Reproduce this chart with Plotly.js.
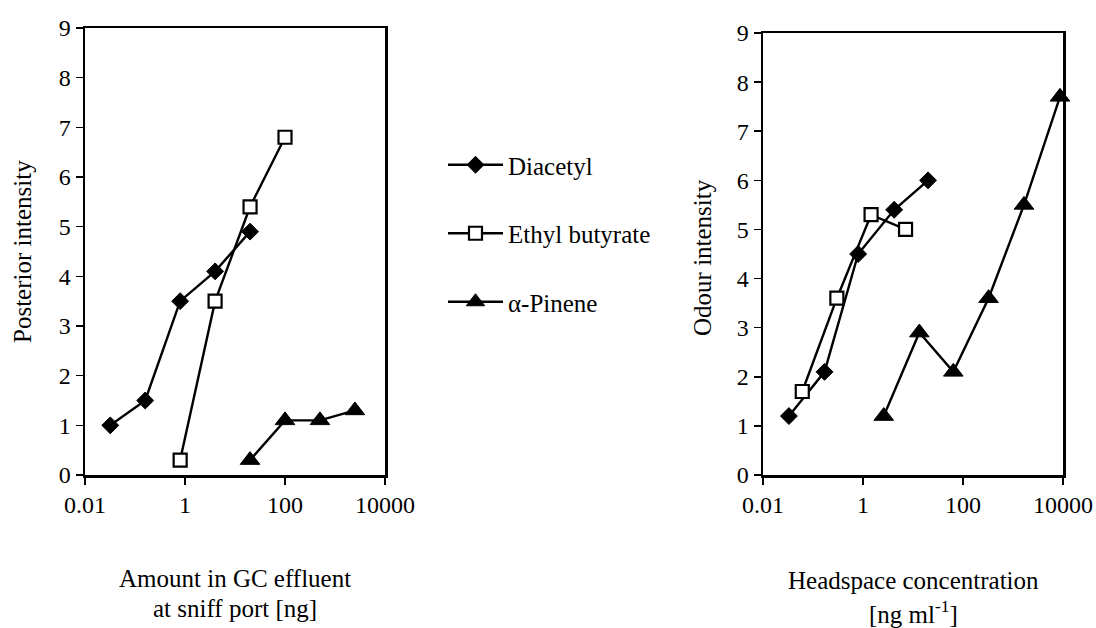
<!DOCTYPE html>
<html><head><meta charset="utf-8">
<script src="https://cdn.plot.ly/plotly-3.0.1.min.js"></script>
<style>body{margin:0;background:#fff}#c{width:1096px;height:628px}</style>
</head><body><div id="c"></div>
<script>
// Left panel: amount in GC effluent at sniff port [ng]
const leftDiacetylX = [0.032, 0.16, 0.8, 4, 20];
const leftDiacetylY = [1.0, 1.5, 3.5, 4.1, 4.9];
const leftEthylX = [0.8, 4, 20, 100];
const leftEthylY = [0.3, 3.5, 5.4, 6.8];
const leftPineneX = [20, 100, 500, 2500];
const leftPineneY = [0.3, 1.1, 1.1, 1.3];
// Right panel: headspace concentration [ng ml-1]
const rightDiacetylX = [0.033, 0.17, 0.8, 4.2, 20];
const rightDiacetylY = [1.2, 2.1, 4.5, 5.4, 6.0];
const rightEthylX = [0.061, 0.3, 1.45, 7.1];
const rightEthylY = [1.7, 3.6, 5.3, 5.0];
const rightPineneX = [2.6, 13.4, 64, 325, 1660, 8700];
const rightPineneY = [1.2, 2.9, 2.1, 3.6, 5.5, 7.7];

const seriesNames = ['Diacetyl', 'Ethyl butyrate', '\u03b1-Pinene'];
const tickVals = [0.01, 1, 100, 10000];
const tickText = ['0.01', '1', '100', '10000'];

const font = 'Liberation Serif';
const mk = [
  {symbol:'diamond', size:13, color:'#000', line:{color:'#000', width:1}},
  {symbol:'square', size:13, color:'#fff', line:{color:'#000', width:2.2}},
  {symbol:'triangle-up', size:17, color:'#000', line:{color:'#000', width:1}}
];
function tr(x, y, i, ax, leg){
  return {x:x, y:y, type:'scatter', mode:'lines+markers', name:seriesNames[i],
    legendgroup:'g'+i, showlegend:leg, xaxis:ax[0], yaxis:ax[1],
    line:{color:'#000', width:2.4}, marker:mk[i], cliponaxis:false};
}
const data = [
  tr(leftDiacetylX, leftDiacetylY, 0, ['x','y'], true),
  tr(leftEthylX, leftEthylY, 1, ['x','y'], true),
  tr(leftPineneX, leftPineneY, 2, ['x','y'], true),
  tr(rightDiacetylX, rightDiacetylY, 0, ['x2','y2'], false),
  tr(rightEthylX, rightEthylY, 1, ['x2','y2'], false),
  tr(rightPineneX, rightPineneY, 2, ['x2','y2'], false)
];
const W = 1096, H = 628;
function xax(l, r, anchor){
  return {type:'log', range:[-2,4], domain:[l/W, r/W], anchor:anchor, tickvals:tickVals, ticktext:tickText,
    ticks:'outside', ticklen:7, tickwidth:1.5, tickcolor:'#000', showgrid:false, zeroline:false,
    showline:true, linecolor:'#000', linewidth:2.5, mirror:true,
    tickfont:{family:font, size:24, color:'#000'}};
}
function yax(t, b, anchor){
  return {range:[0,9], domain:[(H-b)/H, (H-t)/H], dtick:1, tick0:0, anchor:anchor,
    ticks:'outside', ticklen:7, tickwidth:1.5, tickcolor:'#000', showgrid:false, zeroline:false,
    showline:true, linecolor:'#000', linewidth:2.5, mirror:true,
    tickfont:{family:font, size:24, color:'#000'}};
}
const ann = (text, x, y, angle) => ({text:text, x:x/W, y:(H-y)/H, xref:'paper', yref:'paper',
  showarrow:false, textangle:angle||0, font:{family:font, size:25, color:'#000'}, xanchor:'center', yanchor:'middle'});
const layout = {
  width:W, height:H, margin:{l:0, r:0, t:0, b:0}, paper_bgcolor:'#fff', plot_bgcolor:'#fff',
  xaxis:xax(85, 385, 'y'), yaxis:yax(28, 475, 'x'),
  xaxis2:xax(763, 1063, 'y2'), yaxis2:yax(33, 475, 'x2'),
  showlegend:true,
  legend:{x:443/W, y:(H-142)/H, xanchor:'left', yanchor:'top', bgcolor:'rgba(0,0,0,0)',
    font:{family:font, size:25, color:'#000'}, traceorder:'grouped', tracegroupgap:33, itemwidth:55},
  annotations:[
    ann('Posterior intensity', 22, 252, -90),
    ann('Odour intensity', 702, 258, -90),
    ann('Amount in GC effluent', 235, 578),
    ann('at sniff port [ng]', 235, 608),
    ann('Headspace concentration', 913, 580),
    ann('[ng ml<sup>-1</sup>]', 913, 612)
  ]
};
Plotly.newPlot('c', data, layout, {displayModeBar:false, staticPlot:true});
</script></body></html>
